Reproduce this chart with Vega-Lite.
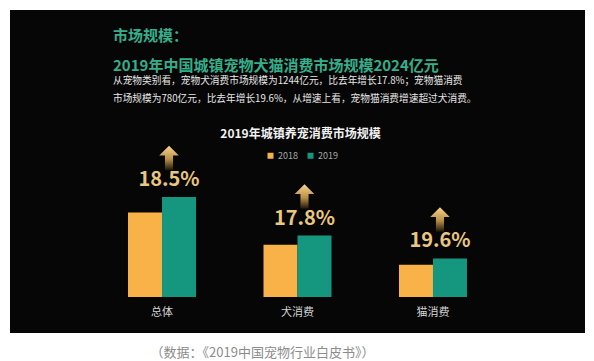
{
  "$schema": "https://vega.github.io/schema/vega-lite/v6.json",
  "width": 575,
  "height": 323,
  "autosize": {"type": "none"},
  "padding": {"left": 10, "top": 10, "right": 9, "bottom": 28},
  "background": "#ffffff",
  "config": {
    "view": {"fill": "#060606", "stroke": null},
    "font": "Noto Sans CJK SC"
  },
  "title": {
    "text": ["市场规模：", "2019年中国城镇宠物犬猫消费市场规模2024亿元"],
    "subtitle": ["从宠物类别看，宠物犬消费市场规模为1244亿元，比去年增长17.8%；宠物猫消费", "市场规模为780亿元，比去年增长19.6%，从增速上看，宠物猫消费增速超过犬消费。"],
    "anchor": "start",
    "frame": "group",
    "dx": 103,
    "offset": -94,
    "color": "#35AE8B",
    "fontSize": 15,
    "fontWeight": "bold",
    "lineHeight": 30,
    "subtitleColor": "#e6e6e6",
    "subtitleFontSize": 9.7,
    "subtitleLineHeight": 18,
    "subtitlePadding": 2
  },
  "layer": [
    {
      "data": {
        "values": [
          {"类别": "总体", "年份": "2018", "规模": 1708},
          {"类别": "总体", "年份": "2019", "规模": 2024},
          {"类别": "犬消费", "年份": "2018", "规模": 1056},
          {"类别": "犬消费", "年份": "2019", "规模": 1244},
          {"类别": "猫消费", "年份": "2018", "规模": 652},
          {"类别": "猫消费", "年份": "2019", "规模": 780}
        ]
      },
      "mark": {"type": "bar"},
      "encoding": {
        "x": {
          "field": "类别",
          "type": "nominal",
          "sort": ["总体", "犬消费", "猫消费"],
          "scale": {"paddingInner": 0.498, "paddingOuter": 0.871},
          "axis": {
            "title": "（数据：《2019中国宠物行业白皮书》）",
            "labelAngle": 0,
            "domain": false,
            "ticks": false,
            "tickSize": 0,
            "labelPadding": -21,
            "labelBaseline": "middle",
            "labelColor": "#d4d4d4",
            "labelFontSize": 11,
            "titleX": 252,
            "titleY": 19,
            "titleAlign": "center",
            "titleBaseline": "middle",
            "titleColor": "#8c8c8c",
            "titleFontSize": 13,
            "titleFontWeight": "normal"
          }
        },
        "xOffset": {
          "field": "年份",
          "type": "nominal",
          "scale": {"paddingInner": 0, "paddingOuter": 0}
        },
        "y": {
          "field": "规模",
          "type": "quantitative",
          "scale": {"domain": [-729, 5809], "nice": false, "zero": false},
          "axis": {
            "title": "2019年城镇养宠消费市场规模",
            "labels": false,
            "ticks": false,
            "domain": false,
            "grid": false,
            "titleAngle": 0,
            "titleX": 290,
            "titleY": 123,
            "titleAlign": "center",
            "titleBaseline": "middle",
            "titleColor": "#f2f2f2",
            "titleFontSize": 12,
            "titleFontWeight": "bold"
          }
        },
        "y2": {"datum": 0},
        "color": {
          "field": "年份",
          "type": "nominal",
          "scale": {"domain": ["2018", "2019"], "range": ["#F9B248", "#14967F"]},
          "legend": {
            "title": null,
            "orient": "none",
            "direction": "horizontal",
            "legendX": 256,
            "legendY": 141,
            "padding": 0,
            "symbolType": "square",
            "symbolSize": 36,
            "symbolStrokeWidth": 0,
            "labelColor": "#a8a8a8",
            "labelFontSize": 9,
            "labelOffset": 3,
            "columnPadding": 8
          }
        }
      }
    },
    {
      "data": {
        "values": [
          {"类别": "总体", "规模": 2024, "增长": "18.5%"},
          {"类别": "犬消费", "规模": 1244, "增长": "17.8%"},
          {"类别": "猫消费", "规模": 780, "增长": "19.6%"}
        ]
      },
      "layer": [
        {
          "mark": {
            "type": "point",
            "shape": "M0,-1L0.8,-0.2L0.33,-0.2L0.33,1L-0.33,1L-0.33,-0.2L-0.8,-0.2Z",
            "size": 600,
            "filled": true,
            "opacity": 1,
            "strokeWidth": 0,
            "xOffset": 7,
            "yOffset": -39,
            "fill": {
              "gradient": "linear",
              "x1": 0, "y1": 0, "x2": 0, "y2": 1,
              "stops": [
                {"offset": 0, "color": "#F7D68C"},
                {"offset": 0.55, "color": "#B98F48"},
                {"offset": 1, "color": "#1c150a"}
              ]
            }
          },
          "encoding": {
            "x": {"field": "类别", "type": "nominal", "sort": ["总体", "犬消费", "猫消费"]},
            "y": {"field": "规模", "type": "quantitative"}
          }
        },
        {
          "mark": {
            "type": "text",
            "dx": 7,
            "dy": -17,
            "fontSize": 20,
            "fontWeight": "bold",
            "color": "#EAC67F",
            "baseline": "middle",
            "align": "center"
          },
          "encoding": {
            "x": {"field": "类别", "type": "nominal", "sort": ["总体", "犬消费", "猫消费"]},
            "y": {"field": "规模", "type": "quantitative"},
            "text": {"field": "增长", "type": "nominal"}
          }
        }
      ]
    }
  ]
}
